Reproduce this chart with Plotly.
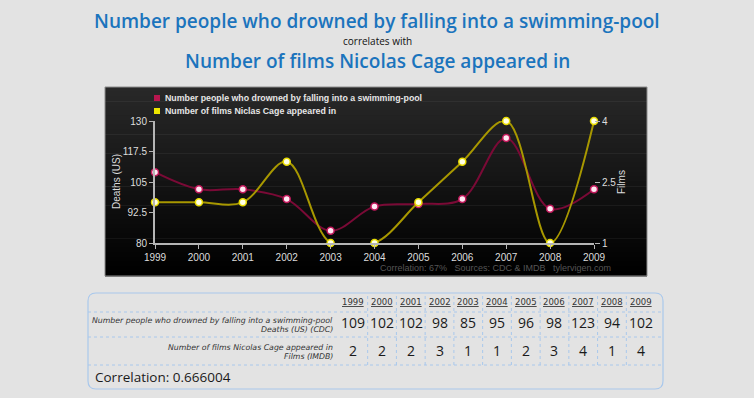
import plotly.graph_objects as go

# ---------------- data ----------------
years = [1999, 2000, 2001, 2002, 2003, 2004, 2005, 2006, 2007, 2008, 2009]
drownings = [109, 102, 102, 98, 85, 95, 96, 98, 123, 94, 102]
films = [2, 2, 2, 3, 1, 1, 2, 3, 4, 1, 4]
left_ticks = [80, 92.5, 105, 117.5, 130]
right_ticks = [1, 2.5, 4]
correlation = 0.666004

title1 = "Number people who drowned by falling into a swimming-pool"
title2 = "Number of films Nicolas Cage appeared in"
legend1 = "Number people who drowned by falling into a swimming-pool"
legend2 = "Number of films Niclas Cage appeared in"
row1_label = ["Number people who drowned by falling into a swimming-pool", "Deaths (US) (CDC)"]
row2_label = ["Number of films Nicolas Cage appeared in", "Films (IMDB)"]
footer = "Correlation: 67%   Sources: CDC & IMDB   tylervigen.com"

# ---------------- helpers ----------------
W, H = 754, 398
def px(x): return x / W
def py(y): return 1 - y / H

RED_LINE = "#7a0a36"
RED_MK = "#c2185b"
YEL_LINE = "#a89800"
YEL_MK = "#e8dc00"
TICK_C = "#dddddd"
AXIS_C = "#b5b5b5"
GRID_BLUE = "#a9c8ec"

fig = go.Figure()

fig.add_trace(go.Scatter(
    x=years, y=drownings, mode="lines+markers", xaxis="x", yaxis="y",
    line=dict(color=RED_LINE, width=2, shape="spline"),
    marker=dict(size=7, color="#ffe8f2", line=dict(color=RED_MK, width=1.5)),
    cliponaxis=False, showlegend=False, hoverinfo="skip"))

fig.add_trace(go.Scatter(
    x=years, y=films, mode="lines+markers", xaxis="x", yaxis="y2",
    line=dict(color=YEL_LINE, width=2, shape="spline"),
    marker=dict(size=7, color="#ffffe6", line=dict(color=YEL_MK, width=1.5)),
    cliponaxis=False, showlegend=False, hoverinfo="skip"))

# dummy trace so the table axis exists
fig.add_trace(go.Scatter(x=years, y=[None] * len(years), xaxis="x2", yaxis="y3",
                         showlegend=False, hoverinfo="skip", mode="markers"))

shapes = []
# chart panel with vertical gradient (bands)
n = 40
top, bot = 87, 276
for i in range(n):
    t = i / (n - 1)
    c = int(round(40 * (1 - t) + 0 * t))
    y0 = top + (bot - top) * i / n
    y1 = top + (bot - top) * (i + 1) / n + 0.6
    shapes.append(dict(type="rect", xref="paper", yref="paper",
                       x0=px(105), x1=px(647), y0=py(y1), y1=py(y0),
                       fillcolor=f"rgb({c},{c},{c})", line=dict(width=0), layer="below"))
shapes.append(dict(type="rect", xref="paper", yref="paper",
                   x0=px(105), x1=px(647), y0=py(bot), y1=py(top),
                   fillcolor="rgba(0,0,0,0)", line=dict(color="#8c8c8c", width=1), layer="below"))

# legend squares
shapes.append(dict(type="rect", xref="paper", yref="paper",
                   x0=px(154), x1=px(160), y0=py(101), y1=py(95),
                   fillcolor="#b8164f", line=dict(width=0)))
shapes.append(dict(type="rect", xref="paper", yref="paper",
                   x0=px(154), x1=px(160), y0=py(114), y1=py(108),
                   fillcolor="#eee600", line=dict(width=0)))

# table box (rounded)
bx0, bx1, by0, by1, r = 88, 663, 293, 389, 8
path = (f"M {px(bx0+r)},{py(by0)} L {px(bx1-r)},{py(by0)} "
        f"Q {px(bx1)},{py(by0)} {px(bx1)},{py(by0+r)} L {px(bx1)},{py(by1-r)} "
        f"Q {px(bx1)},{py(by1)} {px(bx1-r)},{py(by1)} L {px(bx0+r)},{py(by1)} "
        f"Q {px(bx0)},{py(by1)} {px(bx0)},{py(by1-r)} L {px(bx0)},{py(by0+r)} "
        f"Q {px(bx0)},{py(by0)} {px(bx0+r)},{py(by0)} Z")
shapes.append(dict(type="path", xref="paper", yref="paper", path=path,
                   line=dict(color=GRID_BLUE, width=1.2)))
# horizontal dotted lines
for yy in [312, 337, 365]:
    shapes.append(dict(type="line", xref="paper", yref="paper",
                       x0=px(bx0), x1=px(bx1), y0=py(yy), y1=py(yy),
                       line=dict(color=GRID_BLUE, width=1, dash="dot")))
# vertical dotted lines between year columns
for k in range(len(years) + 1):
    xb = years[0] - 0.5 + k
    shapes.append(dict(type="line", xref="x2", yref="paper",
                       x0=xb, x1=xb, y0=py(365), y1=py(by0),
                       line=dict(color=GRID_BLUE, width=1, dash="dot")))

ann = []
def A(text, x, y, xref="paper", xanchor="center", **font):
    ann.append(dict(text=text, x=x, y=y, xref=xref, yref="paper", showarrow=False,
                    xanchor=xanchor, yanchor="middle", font=font))

TF = "Open Sans"
LF = "DejaVu Sans"
AF = "Liberation Sans"
A(title1, 0.5, py(21), family=TF, size=19, color="#1b74bd", weight=600)
A("correlates with", 0.5, py(41), family=TF, size=10, color="#111111")
A(title2, 0.5, py(61), family=TF, size=19, color="#1b74bd", weight=600)

A(legend1, px(163), py(98), xanchor="left", family=AF, size=8.8, color="#e6e6e6", weight="bold")
A(legend2, px(163), py(111), xanchor="left", family=AF, size=8.8, color="#e6e6e6", weight="bold")

ann.append(dict(text="Deaths (US)", x=px(116), y=py(182), xref="paper", yref="paper", showarrow=False,
                xanchor="center", yanchor="middle", textangle=-90,
                font=dict(family=AF, size=10, color=TICK_C)))
ann.append(dict(text="Films", x=px(621), y=py(182), xref="paper", yref="paper", showarrow=False,
                xanchor="center", yanchor="middle", textangle=-90,
                font=dict(family=AF, size=10, color=TICK_C)))
A(footer, px(613), py(268), xanchor="right", family=AF, size=9, color="#555555")

# table text
for yr, d, f in zip(years, drownings, films):
    A(f"<u>{yr}</u>", yr, py(302), xref="x2", family=LF, size=8.5, color="#333333")
    A(str(d), yr, py(322), xref="x2", family=TF, size=14, color="#1a1a1a")
    A(str(f), yr, py(350), xref="x2", family=TF, size=14, color="#1a1a1a")

for txt, yy in [(row1_label[0], 320), (row1_label[1], 329), (row2_label[0], 347), (row2_label[1], 356)]:
    A(f"<i>{txt}</i>", px(335), py(yy), xanchor="right", family=LF, size=7.8, color="#333333")

A(f"Correlation: {correlation:.6f}", px(93), py(377), xanchor="left", family=TF, size=13.5,
  color="#1a1a1a", weight=500)

TICKF = dict(family=AF, size=10, color=TICK_C)
fig.update_layout(
    width=W, height=H, margin=dict(l=0, r=0, t=0, b=0, pad=0, autoexpand=False),
    paper_bgcolor="#e3e3e3", plot_bgcolor="rgba(0,0,0,0)",
    showlegend=False,
    xaxis=dict(domain=[px(155), px(594)], range=[1999, 2009], anchor="y", automargin=False,
               tickvals=years, ticks="outside", ticklen=4, tickcolor=AXIS_C, tickwidth=1,
               showline=True, linecolor=AXIS_C, linewidth=2, showgrid=False, zeroline=False,
               tickfont=TICKF),
    yaxis=dict(domain=[py(243), py(121)], range=[80, 130], anchor="x", automargin=False,
               tickvals=left_ticks, ticktext=[f"{v:g}" for v in left_ticks],
               ticks="outside", ticklen=4, tickcolor=AXIS_C,
               showline=True, linecolor=AXIS_C, linewidth=2, showgrid=False, zeroline=False,
               tickfont=TICKF),
    yaxis2=dict(overlaying="y", side="right", anchor="x", range=[1, 4], automargin=False,
                tickvals=right_ticks, ticktext=[f"{v:g}" for v in right_ticks],
                ticks="outside", ticklen=5, tickcolor=AXIS_C,
                showline=False, showgrid=False, zeroline=False,
                tickfont=TICKF),
    xaxis2=dict(domain=[px(353.3), px(640.7)], range=[1999, 2009], anchor="y3", visible=False,
                automargin=False),
    yaxis3=dict(domain=[0, 0.05], range=[0, 1], anchor="x2", visible=False, automargin=False),
    shapes=shapes, annotations=ann,
)

fig.write_html("out.html", config={"displayModeBar": False},
               post_script="document.body.style.margin='0';document.body.style.background='#e3e3e3';")
